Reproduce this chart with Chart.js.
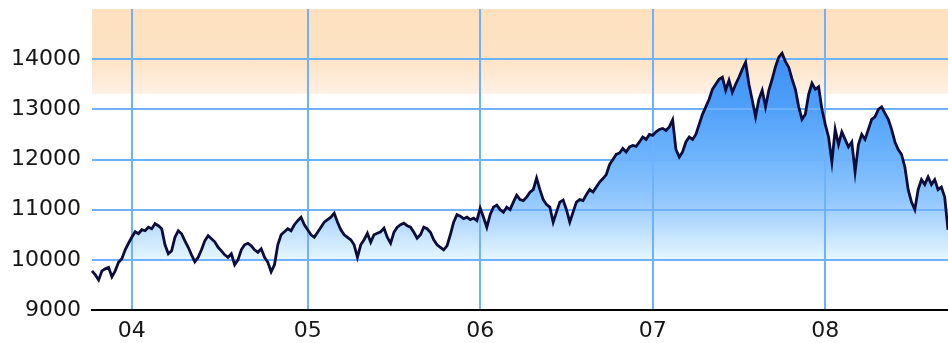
<!DOCTYPE html>
<html>
<head>
<meta charset="utf-8">
<script src="https://cdn.jsdelivr.net/npm/chart.js@4.4.4/dist/chart.umd.min.js"></script>
<style>
  html, body { margin: 0; padding: 0; background: #fff; }
  #wrap { position: relative; width: 948px; height: 343px; }
  #band { position: absolute;
          background: linear-gradient(to bottom, #fde1bf 0%, #fde3c4 55%, #fee9d3 78%, #fff1e5 100%); }
  #chart { position: absolute; left: 0; top: 0; }
</style>
</head>
<body>
<div id="wrap">
  <div id="band"></div>
  <canvas id="chart" width="948" height="343"></canvas>
</div>
<script>
// ─── Data (weekly closes) ───────────────────────────────────────────────────
const START_DATE = [2003, 9, 10];   // first week shown (Fri 10 Oct 2003)

const closes = [
  9780, 9700, 9600, 9780, 9820, 9850, 9660, 9780, 9950, 10020,
  10200, 10330, 10450, 10560, 10520, 10600, 10580, 10650, 10620, 10720,
  10680, 10620, 10300, 10120, 10180, 10450, 10580, 10520, 10380, 10250,
  10100, 9960, 10050, 10200, 10380, 10480, 10420, 10360, 10250, 10180,
  10100, 10050, 10120, 9900, 10000, 10200, 10300, 10330, 10280, 10200,
  10150, 10220, 10050, 9950, 9760, 9900, 10300, 10500, 10560, 10620,
  10580, 10700, 10780, 10850, 10700, 10600, 10500, 10450, 10550, 10650,
  10750, 10800, 10850, 10930, 10750, 10600, 10500, 10450, 10400, 10300,
  10050, 10300, 10400, 10530, 10350, 10500, 10530, 10560, 10630, 10450,
  10330, 10550, 10650, 10700, 10730, 10680, 10650, 10550, 10430, 10500,
  10650, 10620, 10550, 10400, 10300, 10250, 10200, 10280, 10500, 10750,
  10900, 10870, 10820, 10850, 10800, 10830, 10780, 11030, 10850, 10650,
  10900, 11050, 11090, 11000, 10950, 11050, 11000, 11150, 11290, 11200,
  11180, 11250, 11350, 11400, 11630, 11400, 11200, 11100, 11050, 10750,
  10950, 11150, 11190, 11000, 10750, 10950, 11150, 11200, 11180, 11300,
  11400, 11350, 11450, 11550, 11620, 11700, 11900, 12000, 12100, 12130,
  12220, 12150, 12250, 12280, 12260, 12350, 12450, 12400, 12500, 12480,
  12550, 12600, 12620, 12580, 12650, 12790, 12200, 12050, 12150, 12350,
  12450, 12400, 12500, 12700, 12900, 13050, 13200, 13400, 13500, 13600,
  13640, 13380, 13580, 13340, 13500, 13640, 13800, 13940, 13500, 13180,
  12850, 13200, 13380, 13050, 13380, 13600, 13850, 14040, 14120, 13950,
  13840, 13600, 13400, 13050, 12800, 12900, 13300, 13520, 13400, 13450,
  13000, 12700, 12450, 11950, 12600, 12300, 12550, 12400, 12250, 12350,
  11750, 12300, 12500, 12400, 12600, 12800, 12850, 13000, 13050, 12920,
  12800, 12600, 12350, 12200, 12100, 11850, 11400, 11150, 11000, 11400,
  11600, 11500, 11650, 11500, 11600, 11400, 11450, 11250, 10600
];

const Y_MIN = 9000;
const Y_MAX = 15000;
const Y_STEP = 1000;
const BAND_FLOOR = 13300;   // lower edge of the peach band
const FILL_BASE = 10000;    // area fill stops at this level

// ─── Styles ──────────────────────────────────────────────────────────────────
const GRID = '#6db1ff';
const TEXT = '#161616';
const FONT = { family: "'DejaVu Sans', sans-serif", size: 22 };

// weekly category labels
const weekLabels = closes.map((_, i) => {
  const d = new Date(Date.UTC(START_DATE[0], START_DATE[1], START_DATE[2] + 7 * i));
  return d.toISOString().slice(0, 10);
});

function isYearStart(i) {
  return i > 0 && weekLabels[i].slice(0, 4) !== weekLabels[i - 1].slice(0, 4);
}

function areaGradient(context) {
  const chart = context.chart;
  const { ctx, chartArea, scales } = chart;
  if (!chartArea || !scales.y) return 'rgba(80,160,250,0.6)';
  const y0 = scales.y.getPixelForValue(14200);
  const y1 = scales.y.getPixelForValue(FILL_BASE);
  const g = ctx.createLinearGradient(0, y0, 0, y1);
  g.addColorStop(0.00, '#3a8cf5');
  g.addColorStop(0.25, '#4d9ef9');
  g.addColorStop(0.50, '#6cb3fc');
  g.addColorStop(0.72, '#93c8fd');
  g.addColorStop(0.88, '#c4e3fe');
  g.addColorStop(1.00, '#e6f7ff');
  return g;
}

// no extra room for half-labels at the ends of either axis
function noPad(s) {
  s.paddingTop = 0;
  s.paddingBottom = 0;
  s.paddingLeft = 0;
  s.paddingRight = 0;
}

const chart = new Chart(document.getElementById('chart'), {
  type: 'line',
  data: {
    labels: weekLabels,
    datasets: [{
      data: closes,
      borderColor: '#0c0c3a',
      borderWidth: 2.8,
      pointRadius: 0,
      tension: 0,
      backgroundColor: areaGradient,
      fill: { target: { value: FILL_BASE }, below: 'rgba(0,0,0,0)' },
    }],
  },
  options: {
    responsive: false,
    animation: false,
    layout: { padding: { top: 9, right: 0, left: 0, bottom: 0 } },
    plugins: {
      legend: { display: false },
      tooltip: { enabled: false },
      filler: { drawTime: 'beforeDraw' },
    },
    scales: {
      x: {
        type: 'category',
        afterFit: s => { s.height = 33; noPad(s); },
        grid: {
          color: c => (isYearStart(c.index) ? GRID : 'rgba(0,0,0,0)'),
          lineWidth: 2,
          drawTicks: false,
        },
        border: { display: true, color: '#000', width: 2 },
        ticks: {
          autoSkip: false,
          maxRotation: 0,
          padding: 8,
          color: TEXT,
          font: FONT,
          callback: (v, i) => (isYearStart(i) ? weekLabels[i].slice(2, 4) : ''),
        },
      },
      y: {
        min: Y_MIN,
        max: Y_MAX,
        afterFit: s => { s.width = 92; noPad(s); },
        grid: {
          color: c => (c.tick && c.tick.value === Y_MAX ? 'rgba(0,0,0,0)' : GRID),
          lineWidth: 2,
          drawTicks: false,
        },
        border: { display: false },
        ticks: {
          stepSize: Y_STEP,
          padding: 11,
          color: TEXT,
          font: FONT,
          callback: v => (v === Y_MAX ? '' : String(v)),
        },
      },
    },
  },
});

// peach band behind the canvas, placed from the chart's own scale
const area = chart.chartArea;
const band = document.getElementById('band');
band.style.left = area.left + 'px';
band.style.top = area.top + 'px';
band.style.width = (area.right - area.left) + 'px';
band.style.height = (chart.scales.y.getPixelForValue(BAND_FLOOR) - area.top) + 'px';
</script>
</body>
</html>
